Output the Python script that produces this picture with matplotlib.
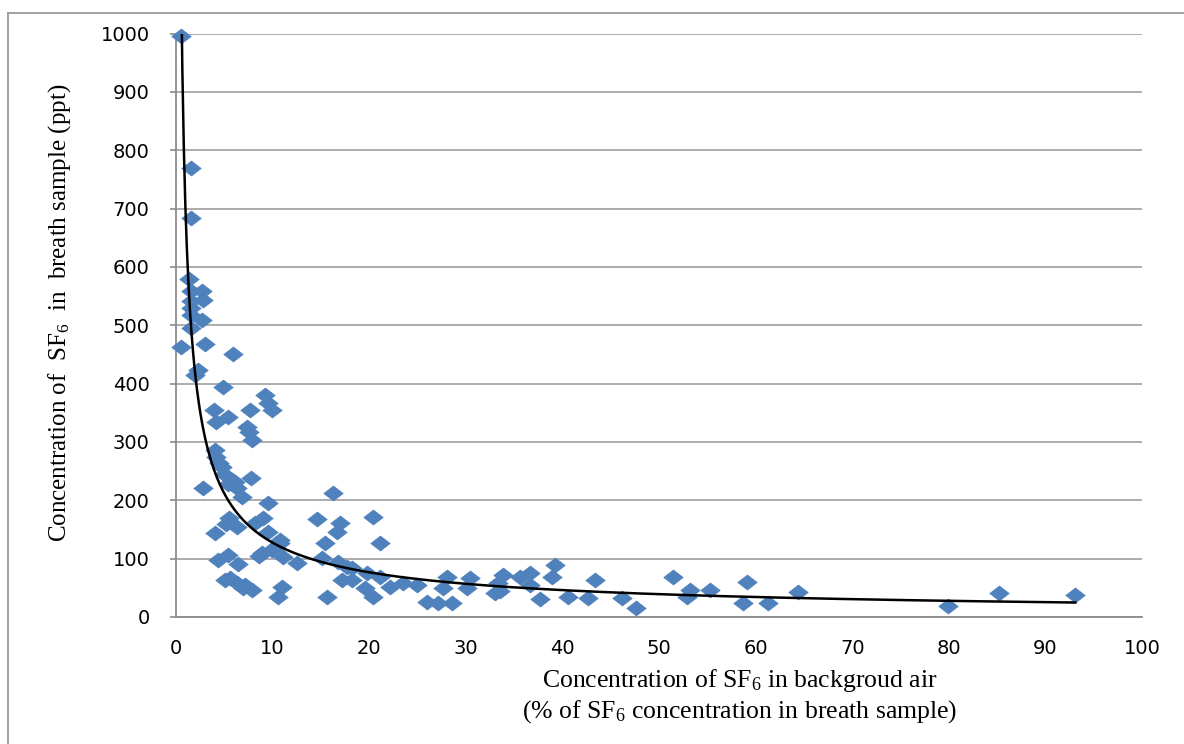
import numpy as np
import matplotlib
matplotlib.use("Agg")
import matplotlib.pyplot as plt
from matplotlib.path import Path
from matplotlib.lines import Line2D

plt.rcParams["mathtext.fontset"] = "custom"
plt.rcParams["mathtext.rm"] = "Liberation Serif"
plt.rcParams["mathtext.it"] = "Liberation Serif:italic"
plt.rcParams["mathtext.bf"] = "Liberation Serif:bold"

# ---- data ----
bg_pct = [
    0.5, 1.6, 1.6, 1.3, 1.6, 2.7, 2.8, 1.6, 1.6, 1.6, 2.7, 1.6, 0.5, 3.0, 5.9,
    2.3, 2.0, 4.9, 9.2, 3.9, 5.4, 4.1, 7.7, 9.5, 9.9, 7.3, 7.6, 7.9, 4.0, 4.1,
    4.4, 4.8, 2.8, 5.8, 7.8, 6.3, 6.8, 9.5, 5.5, 6.3, 4.0, 8.2, 9.0, 9.5, 10.8,
    5.4, 6.1, 5.0, 4.3, 5.4, 6.4, 8.9, 9.9, 10.8, 5.6, 6.3, 7.1, 7.9, 11.0, 10.6,
    5.2, 8.6, 10.3, 6.9, 5.1,
    16.3, 14.6, 20.4, 17.0, 16.7, 15.4, 21.1, 11.1, 12.5, 15.1, 16.8, 17.7, 18.2,
    17.2, 18.2, 19.8, 19.6, 21.1, 20.4, 22.2, 23.5, 24.9, 15.6, 26.0, 27.1, 28.6,
    28.1, 27.6, 30.4, 30.1, 33.0,
    33.9, 33.3, 33.5, 35.6, 36.6, 36.6, 39.2, 38.9, 37.7, 40.6, 43.4, 42.7, 46.2,
    47.6, 51.4, 53.2, 52.9, 55.3, 59.1, 58.7, 61.3, 64.4, 79.9, 85.2, 93.1,
]
breath_ppt = [
    995, 770, 684, 579, 558, 558, 544, 541, 530, 518, 509, 495, 463, 468, 450,
    424, 415, 395, 381, 355, 343, 335, 355, 367, 355, 326, 317, 303, 286, 275,
    264, 257, 221, 235, 238, 221, 206, 195, 170, 154, 144, 161, 170, 146, 132,
    228, 232, 245, 98, 106, 91, 110, 115, 127, 67, 58, 55, 46, 52, 34,
    160, 105, 120, 50, 64,
    213, 168, 172, 161, 146, 127, 127, 103, 93, 101, 94, 86, 84,
    63, 63, 75, 50, 69, 34, 51, 58, 55, 34, 26, 24, 24,
    69, 50, 67, 50, 41,
    72, 58, 45, 69, 75, 55, 89, 69, 31, 34, 63, 33, 33,
    15, 69, 46, 34, 46, 60, 24, 24, 43, 18, 41, 38,
]

x_ticks = [0, 10, 20, 30, 40, 50, 60, 70, 80, 90, 100]
y_ticks = [0, 100, 200, 300, 400, 500, 600, 700, 800, 900, 1000]

W, H = 1184, 744
fig = plt.figure(figsize=(W / 100, H / 100), dpi=100)
fig.patch.set_facecolor("white")

# outer chart border (top and left visible)
fig.add_artist(Line2D([8 / W, 1.0], [1 - 13 / H, 1 - 13 / H], transform=fig.transFigure,
                      color="#9a9a9a", lw=1.3))
fig.add_artist(Line2D([8 / W, 8 / W], [0.0, 1 - 13 / H], transform=fig.transFigure,
                      color="#9a9a9a", lw=1.3))

left, right, top, bottom = 176, 1142, 33.5, 617
ax = fig.add_axes([left / W, 1 - bottom / H, (right - left) / W, (bottom - top) / H])

ax.set_xlim(0, 100)
ax.set_ylim(0, 1000)
ax.set_xticks(x_ticks)
ax.set_yticks(y_ticks)
ax.set_xticklabels([str(v) for v in x_ticks])
ax.set_yticklabels([str(v) for v in y_ticks])

grid_c = "#a6a6a6"
ax.yaxis.grid(True, color=grid_c, lw=1.3)
ax.xaxis.grid(False)
ax.set_axisbelow(True)
for s in ["top", "right"]:
    ax.spines[s].set_visible(False)
for s in ["left", "bottom"]:
    ax.spines[s].set_color("#8c8c8c")
    ax.spines[s].set_linewidth(1.3)

ax.tick_params(axis="y", direction="out", length=4, width=1.2, color="#8c8c8c",
               pad=15, labelsize=14, labelcolor="black")
ax.tick_params(axis="x", direction="out", length=0, pad=16, labelsize=14,
               labelcolor="black")
for lab in ax.get_xticklabels() + ax.get_yticklabels():
    lab.set_fontfamily("DejaVu Sans")

# diamond marker, slightly wider than tall
diamond = Path([(-1.3, 0), (0, 1), (1.3, 0), (0, -1), (-1.3, 0)],
               [Path.MOVETO, Path.LINETO, Path.LINETO, Path.LINETO, Path.CLOSEPOLY])

xs = np.array(bg_pct, dtype=float)
ys = np.array(breath_ppt, dtype=float)
ax.plot(xs, ys, linestyle="none", marker=diamond, markersize=14,
        markerfacecolor="#4f81bd", markeredgecolor="#4f81bd", markeredgewidth=0.5,
        zorder=3, clip_on=False)

# power-law trendline fitted to the points (as a spreadsheet would)
b, ln_a = np.polyfit(np.log(xs), np.log(ys), 1)
xf = np.linspace(xs.min(), xs.max(), 600)
ax.plot(xf, np.exp(ln_a) * xf ** b, color="black", lw=1.8, zorder=4)

serif = "Liberation Serif"
fig.text(740 / W, 1 - 687 / H, r"Concentration of SF$_6$ in backgroud air",
         ha="center", va="baseline", fontsize=18.5, family=serif)
fig.text(740 / W, 1 - 718 / H, r"(% of SF$_6$ concentration in breath sample)",
         ha="center", va="baseline", fontsize=18.5, family=serif)
fig.text(60 / W, 1 - 313 / H, r"Concentration of  SF$_6$  in  breath sample (ppt)",
         ha="center", va="center", rotation=90, fontsize=18, family=serif)

fig.savefig("out.png", dpi=100)
